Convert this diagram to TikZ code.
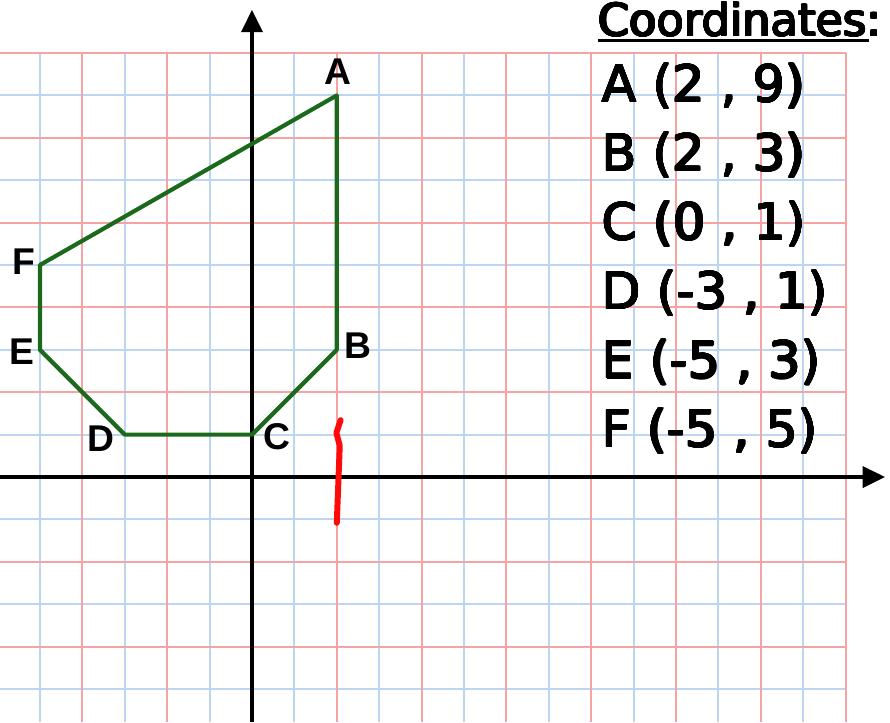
\documentclass[tikz,border=0pt]{standalone}
\usepackage{fontspec}
\usepackage[copies]{contour}
\contourlength{0.55pt}
\contournumber{16}
\setmainfont{DejaVu Sans}
\newfontfamily\listfont{DejaVu Sans}
\newfontfamily\labelfont{Liberation Sans}
\usetikzlibrary{arrows.meta}
\definecolor{gridRed}{HTML}{F5A3A3}
\definecolor{gridBlue}{HTML}{BBD5F3}
\definecolor{shapeGreen}{HTML}{1B691B}
\definecolor{tickRed}{HTML}{FF0A0A}
\newcommand{\heavy}[1]{\contour{black}{#1}}

\begin{document}
\begin{tikzpicture}[
  x=1cm, y=1cm,
  gridred/.style={draw=gridRed, line width=1.3pt},
  gridblue/.style={draw=gridBlue, line width=1.3pt},
  axis/.style={line width=2.7pt, -{Triangle[length=15pt, width=14pt]}},
  outline/.style={draw=shapeGreen, line width=2.8pt, line join=round},
  redtick/.style={draw=tickRed, line width=4pt, line cap=round, line join=round},
  pointlabel/.style={font=\labelfont\bfseries\fontsize{25}{25}\selectfont, inner sep=0pt},
  coordrow/.style={anchor=base west, inner sep=0pt, font=\listfont\fontsize{34}{34}\selectfont},
]
  % page frame
  \useasboundingbox (-5.943,-5.778) rectangle (15.047,11.25);
  \fill[white] (-5.943,-5.778) rectangle (15.047,11.25);

  % squared paper
  \foreach \x in {-5,-3,...,13} \draw[gridblue] (\x,-5.778) -- (\x,10);
  \foreach \y in {-5,-3,...,9} \draw[gridblue] (-5.943,\y) -- (14,\y);
  \foreach \x in {-4,-2,...,14} \draw[gridred] (\x,-5.778) -- (\x,10);
  \foreach \y in {-4,-2,...,10} \draw[gridred] (-5.943,\y) -- (14,\y);

  % axes
  \coordinate (xstart) at (-5.943,0);
  \coordinate (xend) at (14.93,0);
  \coordinate (ystart) at (0,-5.778);
  \coordinate (yend) at (0,11.02);
  \draw[axis] (xstart) -- (xend);
  \draw[axis] (ystart) -- (yend);

  % the shape
  \coordinate (A) at (2,9);
  \coordinate (B) at (2,3);
  \coordinate (C) at (0,1);
  \coordinate (D) at (-3,1);
  \coordinate (E) at (-5,3);
  \coordinate (F) at (-5,5);
  \draw[outline] (A) -- (B) -- (C) -- (D) -- (E) -- (F) -- cycle;

  \node[pointlabel] (labA) at (2.03,9.57) {A};
  \node[pointlabel] (labB) at (2.5,3.1) {B};
  \node[pointlabel] (labC) at (0.6,0.94) {C};
  \node[pointlabel] (labD) at (-3.56,0.9) {D};
  \node[pointlabel] (labE) at (-5.42,2.95) {E};
  \node[pointlabel] (labF) at (-5.38,5.07) {F};

  % hand-drawn mark
  \draw[redtick] (2.09,1.34) -- (1.99,1.04) -- (2.07,0.74) -- (2.0,-1.08);

  % list of coordinates
  \node[coordrow, font=\listfont\fontsize{30}{30}\selectfont] (heading) at (8.16,10.4) {\heavy{Coordinates:}};
  \draw[line width=1.8pt] ([yshift=-3pt]heading.base west) -- ([yshift=-3pt,xshift=-9pt]heading.base east);
  \node[coordrow] (rowA) at (8.25,8.84) {\heavy{A (2 , 9)}};
  \node[coordrow] (rowB) at (8.25,7.22) {\heavy{B (2 , 3)}};
  \node[coordrow] (rowC) at (8.25,5.59) {\heavy{C (0 , 1)}};
  \node[coordrow] (rowD) at (8.25,3.96) {\heavy{D (-3 , 1)}};
  \node[coordrow] (rowE) at (8.25,2.33) {\heavy{E (-5 , 3)}};
  \node[coordrow] (rowF) at (8.25,0.71) {\heavy{F (-5 , 5)}};
\end{tikzpicture}
\end{document}
